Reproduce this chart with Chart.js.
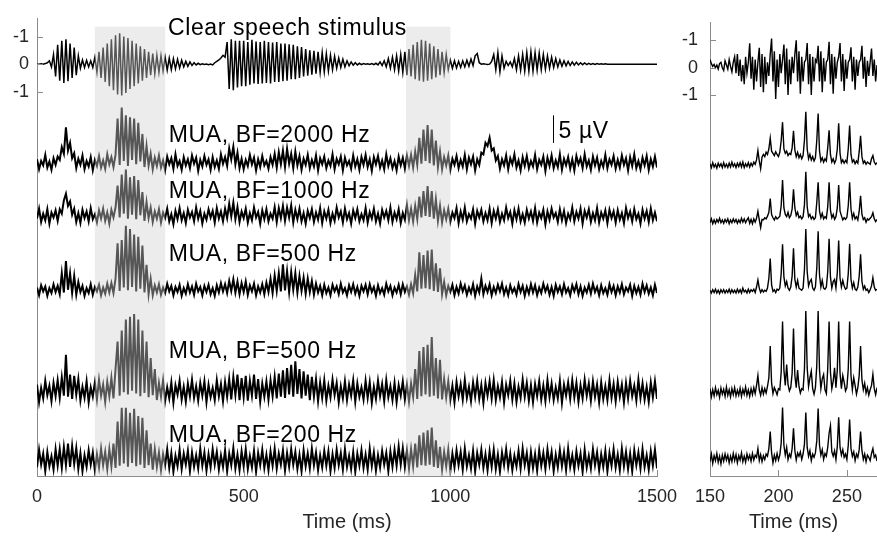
<!DOCTYPE html>
<html><head><meta charset="utf-8">
<script src="https://cdn.jsdelivr.net/npm/chart.js@4.4.0/dist/chart.umd.min.js"></script>
<style>
html,body{margin:0;padding:0;background:#fff;width:877px;height:536px;overflow:hidden}
canvas{position:absolute;top:0}
#left{left:0}
#right{left:660px}
</style></head><body>
<canvas id="left" width="700" height="536"></canvas>
<canvas id="right" width="217" height="536"></canvas>
<script>
// ---------- sample times (ms) ----------
const tLeft = []; for (let t = 0; t <= 1500; t += 5) tLeft.push(t);
const tRight = []; for (let t = 150; t <= 272; t += 1) tRight.push(t);

// ---------- tick values / labels ----------
const xTicksLeft = [0, 500, 1000, 1500];
const xTickLabelsLeft = ['0', '500', '1000', '1500'];
const xTicksRight = [150, 200, 250];
const xTickLabelsRight = ['150', '200', '250'];
const yTickVals = [-1, 0, 1];
const yTickLabels = ['-1', '0', '-1'];

// ---------- text ----------
const traceLabels = ['Clear speech stimulus', 'MUA, BF=2000 Hz', 'MUA, BF=1000 Hz', 'MUA, BF=500 Hz', 'MUA, BF=500 Hz', 'MUA, BF=200 Hz'];
const xTitle = 'Time (ms)';
const scaleBarLabel = '5 µV';

// ---------- shaded windows (ms) ----------
const shadeStart = [140, 893];
const shadeEnd = [310, 1000];

// ---------- left panel: speech stimulus (normalised amplitude), 0..1500 ms every 5 ms ----------
const stimLeft = [
 0,0,0.01,0,0.02,0.05,0.12,-0.1,0.35,-0.45,0.7,-0.6,0.85,-0.68,0.9,-0.62,0.75,-0.5,0.6,-0.4,
 0.3,-0.15,0.15,-0.12,0.14,-0.1,0.12,-0.12,0.25,-0.3,0.45,-0.5,0.6,-0.65,0.75,-0.8,0.9,-0.95,1.05,-1.1,
 1.12,-1.14,1.0,-1.05,0.95,-0.9,0.85,-0.8,0.75,-0.7,0.65,-0.6,0.55,-0.5,0.45,-0.4,0.38,-0.35,0.32,-0.3,
 0.3,-0.25,0.25,-0.22,0.22,-0.2,0.2,-0.17,0.17,-0.14,0.14,-0.1,0.1,-0.08,0.08,-0.05,0.05,-0.03,0.03,-0.02,
 0.01,-0.01,0,-0.02,0,-0.03,0.05,0.1,0.15,0.22,0.32,0.25,0.8,-0.9,0.9,-0.95,0.85,-0.85,0.85,-0.8,
 0.85,-0.8,0.8,-0.75,0.88,-0.7,0.82,-0.72,0.8,-0.7,0.85,-0.68,0.8,-0.7,0.78,-0.65,0.8,-0.65,0.75,-0.62,
 0.75,-0.6,0.72,-0.55,0.7,-0.55,0.65,-0.5,0.62,-0.45,0.55,-0.42,0.5,-0.38,0.48,-0.35,0.45,-0.3,0.42,-0.28,
 0.38,-0.25,0.32,-0.2,0.28,-0.15,0.22,-0.12,0.18,-0.1,0.12,-0.06,0.08,-0.04,0.05,-0.03,0.03,-0.02,0.02,0,
 0.01,-0.01,0.02,-0.02,0.03,-0.03,0.08,-0.05,0.12,-0.1,0.2,-0.15,0.25,-0.2,0.3,-0.25,0.35,-0.3,0.45,-0.4,
 0.55,-0.45,0.7,-0.55,0.8,-0.6,0.88,-0.64,0.85,-0.6,0.75,-0.55,0.65,-0.48,0.55,-0.4,0.45,-0.3,0.35,-0.2,
 0.15,-0.15,0.12,-0.14,0.1,-0.12,0.12,-0.1,0.14,-0.08,0.18,-0.05,0.3,0.38,0.05,0,0.01,0,-0.01,0,
 0.1,0.35,-0.2,0.42,-0.28,0.3,-0.15,0.1,-0.05,0.08,-0.1,0.2,-0.2,0.3,-0.22,0.35,-0.25,0.42,-0.25,0.45,
 -0.25,0.42,-0.22,0.4,-0.2,0.35,-0.18,0.3,-0.15,0.25,-0.12,0.2,-0.1,0.15,-0.08,0.12,-0.06,0.1,-0.05,0.08,
 -0.04,0.07,-0.03,0.05,-0.02,0.04,-0.02,0.03,-0.01,0.02,-0.01,0.02,0,0.01,0,0.01,0,0,0,0,
 0,0,0,0,0,0,0,0,0,0,0,0,0,0,0,0,0,0,0,0,
 0
];

// ---------- left panel: MUA (µV), 0..1500 ms every 5 ms ----------
const mua2000Left = [
 0.6,-1.2,0.3,-0.5,1.4,-0.9,0.2,-1.3,0.8,-0.4,1.1,0.5,2.8,1.6,6.4,2.2,3.6,0.8,1.7,-1.0,
 0.7,-0.4,1.3,-1.2,0.3,-0.7,1.0,-1.4,0.5,-0.6,1.2,-0.9,0.4,-1.1,1.5,-0.3,1.0,-0.8,1.4,8.0,
 -0.4,10,0.3,8.6,-0.6,8.2,0.5,8.0,-0.3,7.2,0.2,5.2,-0.8,3.0,-0.5,1.6,-1.2,0.9,-0.6,1.3,
 -0.9,0.4,-1.4,1.1,-0.3,0.8,-1.1,1.5,-0.6,0.3,-1.3,1.0,-0.5,0.6,-1.0,1.3,-0.2,0.9,-1.5,0.5,
 -0.7,1.2,-0.4,0.6,-1.3,1.0,-0.8,0.4,-1.1,1.5,-0.2,1.0,-0.6,2.6,0.6,2.9,-0.3,1.8,-1.0,0.7,
 -1.2,0.5,-0.6,1.4,-0.3,0.9,-1.4,0.6,-0.8,1.2,-0.5,0.3,-1.1,1.0,-0.4,1.6,-0.9,1.9,-0.3,2.2,
 -0.8,2.5,-0.2,1.6,-1.0,2.0,-0.5,1.2,-1.3,0.7,-0.4,1.4,-1.0,0.5,-0.7,1.3,-1.4,0.8,-0.3,1.1,
 -1.0,0.4,-0.6,1.5,-1.2,0.7,-0.3,1.1,-1.4,0.9,-0.5,0.3,-1.1,1.3,-0.7,0.6,-1.3,1.0,-0.4,1.4,
 -0.8,0.6,-1.5,1.0,-0.3,1.2,-0.9,0.4,-1.2,1.5,-0.6,0.8,-1.0,0.3,-1.4,1.1,-0.5,0.9,-1.1,1.3,
 -0.6,1.4,-0.9,2.0,-0.4,4.5,-0.2,6.0,0.3,6.8,-0.1,6.0,-0.5,4.0,-0.8,2.0,-1.2,1.0,-0.5,1.3,
 -1.3,0.7,-0.4,1.2,-1.0,0.5,-0.7,1.4,-1.2,0.9,-0.3,1.1,-1.4,0.6,-0.4,1.8,1.5,3.6,3.0,4.5,
 2.2,2.6,0.4,1.2,-1.1,0.6,-0.5,1.3,-1.2,0.8,-0.3,1.5,-0.9,0.4,-1.4,1.0,-0.6,1.2,-1.0,0.3,
 -0.7,1.4,-1.2,0.5,-0.4,1.1,-1.5,0.9,-0.6,1.3,-1.0,0.4,-0.8,1.5,-1.3,0.7,-0.5,1.0,-1.1,0.6,
 -1.4,1.2,-0.3,0.8,-1.0,1.5,-0.7,0.4,-1.3,1.1,-0.5,0.9,-1.2,0.3,-0.8,1.4,-1.0,0.6,-0.4,1.2,
 -1.1,0.5,-0.9,1.3,-0.4,0.8,-1.4,1.0,-0.6,1.5,-1.0,0.3,-1.2,0.9,-0.5,1.2,-1.3,0.6,-0.7,1.1,
 -0.9
];
const mua1000Left = [
 -0.5,1.3,-1.1,0.4,-0.8,1.2,-1.4,0.6,-0.3,1.0,-0.9,1.2,0.4,2.8,4.0,1.8,2.6,0.2,1.3,-1.1,
 0.5,-1.3,1.1,-0.4,0.8,-1.0,1.4,-0.6,0.3,-1.2,1.0,-0.5,1.3,-0.9,0.6,-1.4,1.1,-0.3,1.5,5.5,
 -0.3,7.5,0.4,8.4,-0.5,7.0,0.2,7.2,-0.6,6.5,0.1,4.3,-0.9,2.5,-0.4,1.5,-1.1,0.8,-0.5,1.2,
 -1.2,0.6,-0.4,1.3,-1.0,0.3,-1.5,0.9,-0.6,1.4,-0.8,0.5,-1.3,1.1,-0.3,0.7,-1.0,1.5,-0.5,0.9,
 -1.4,0.4,-0.7,1.2,-0.3,0.9,-1.2,1.4,-0.5,0.8,-1.0,1.3,-0.4,2.2,-0.1,2.4,-0.6,1.6,-1.1,0.8,
 -0.4,1.3,-1.2,0.5,-0.8,1.5,-0.3,0.7,-1.4,1.0,-0.6,1.2,-1.0,0.4,-0.5,1.6,-1.1,1.4,-0.4,1.8,
 -0.9,1.5,-0.3,1.9,-1.2,1.1,-0.6,1.3,-1.0,0.5,-1.4,0.9,-0.4,1.2,-1.1,0.6,-0.7,1.4,-1.3,0.8,
 -0.5,1.1,-1.3,0.4,-0.9,1.5,-0.3,0.8,-1.2,1.3,-0.6,0.5,-1.4,1.0,-0.4,1.2,-1.0,0.3,-0.8,1.4,
 -1.2,0.7,-0.5,1.3,-1.0,0.4,-1.4,1.1,-0.3,0.9,-0.8,1.5,-1.1,0.6,-0.6,1.2,-1.3,0.5,-0.7,2.0,
 -0.8,1.3,-1.0,1.8,-0.6,3.5,-0.3,4.5,0,5.4,-0.2,4.5,-0.5,3.0,-0.9,1.8,-1.2,1.0,-0.6,1.3,
 -1.1,0.6,-0.4,1.4,-1.3,0.8,-0.7,1.5,-1.0,0.3,-0.5,1.2,-1.4,0.9,-0.3,1.1,-1.0,0.5,-0.8,1.3,
 -1.3,0.9,-0.5,1.2,-1.1,0.4,-0.8,1.5,-0.4,0.7,-1.4,1.0,-0.6,1.3,-1.0,0.3,-1.2,1.1,-0.5,0.8,
 -0.9,1.4,-1.2,0.6,-0.4,1.1,-1.5,0.8,-0.7,1.3,-0.3,0.5,-1.1,1.2,-0.8,0.9,-1.3,0.4,-0.6,1.5,
 -1.0,0.7,-0.5,1.3,-1.4,0.9,-0.3,1.2,-1.1,0.5,-0.8,1.4,-1.2,0.6,-0.5,1.0,-1.3,1.1,-0.4,0.8,
 -1.2,1.0,-0.7,0.5,-1.3,1.4,-0.4,0.8,-1.0,1.2,-0.6,0.4,-1.4,1.1,-0.5,0.9,-1.1,1.3,-0.8,0.6,
 -1.0
];
const mua500aLeft = [
 0.4,-1.0,0.8,-0.3,0.6,-1.1,0.3,-0.6,1.0,-0.4,0.7,-0.8,3.0,-0.5,5.2,0.0,3.0,-0.6,2.5,-0.9,
 1.4,-0.4,0.7,-1.1,0.3,-0.6,1.0,-0.9,0.5,-0.3,0.9,-1.0,0.4,-0.7,1.1,-0.5,1.2,-0.6,2.0,8.4,
 -0.2,9.0,0.4,11.6,-0.1,11.0,0.5,10.0,-0.3,9.6,0.2,8.0,-0.5,4.5,-0.8,2.0,-1.0,0.8,-0.5,1.0,
 -0.9,0.4,-0.6,1.1,-0.3,0.7,-1.0,0.5,-0.4,0.9,-1.1,0.3,-0.7,1.0,-0.5,0.6,-0.9,1.1,-0.3,0.5,
 -1.0,0.7,-0.4,0.9,-0.8,0.3,-1.1,0.8,-0.5,1.2,-0.3,1.0,-0.6,1.6,-0.2,1.9,-0.5,1.5,-0.8,1.2,
 -0.4,1.5,-0.9,0.8,-0.3,1.1,-1.0,0.6,-0.5,1.0,-0.8,1.3,-0.4,2.0,-0.6,2.6,-0.2,3.0,-0.3,4.6,
 -0.1,3.4,-0.4,3.2,0.0,3.0,-0.5,2.5,-0.2,2.2,-0.7,2.0,-0.4,1.6,-0.9,1.1,-0.5,0.7,-1.0,0.9,
 -0.6,0.4,-1.0,0.9,-0.3,0.6,-0.8,1.1,-0.5,0.3,-1.0,0.8,-0.4,1.0,-0.7,0.5,-1.1,0.7,-0.3,0.9,
 -0.8,1.0,-0.4,0.5,-1.1,0.8,-0.6,0.3,-0.9,1.1,-0.3,0.7,-1.0,0.4,-0.5,0.9,-0.8,1.0,-0.4,0.6,
 -0.9,1.0,-0.6,2.7,-0.3,6.8,0.2,6.3,0.3,7.1,0.1,7.3,-0.2,4.8,-0.4,3.9,-0.8,1.4,-1.0,0.7,
 -0.4,0.9,-1.0,0.5,-0.7,1.1,-0.3,0.8,-0.9,0.4,-0.6,1.0,-1.1,0.6,-0.5,2.0,-0.8,0.7,-0.4,1.0,
 -1.0,0.5,-0.6,0.9,-0.3,1.1,-0.8,0.4,-1.0,0.8,-0.5,0.3,-0.9,1.0,-0.4,0.7,-1.1,0.5,-0.7,1.0,
 -0.5,0.8,-1.0,0.4,-0.6,1.1,-0.3,0.7,-0.9,0.5,-1.1,0.9,-0.4,0.6,-0.8,1.0,-0.5,0.3,-1.0,0.8,
 -0.3,1.0,-0.8,0.6,-1.1,0.4,-0.5,0.9,-0.7,1.1,-0.4,0.5,-1.0,0.8,-0.6,0.3,-0.9,1.0,-0.4,0.7,
 -1.0,0.6,-0.5,1.0,-0.8,0.4,-0.3,0.9,-1.1,0.7,-0.6,0.5,-0.9,1.1,-0.4,0.8,-0.7,0.4,-1.0,0.9,
 -0.6
];
const mua500bLeft = [
 1.2,-2.0,0.6,-1.3,1.9,-0.7,1.0,-1.8,1.5,-0.9,2.0,-1.2,2.5,-0.8,6.6,-1.0,3.0,-1.4,2.8,-0.6,
 2.2,-1.7,0.8,-1.2,1.8,-2.0,0.7,-1.0,1.6,-1.5,2.1,-0.8,1.2,-1.9,1.7,-0.9,2.4,-1.3,4.0,9.0,
 -0.8,11.0,-0.2,13.0,-0.6,13.5,0.1,14.0,-0.4,13.0,-0.9,11.0,-0.3,9.0,-1.1,6.0,-0.7,4.0,-1.6,1.5,
 -1.0,2.0,-1.8,0.7,-1.3,1.6,-2.1,1.1,-0.6,1.9,-1.5,0.8,-1.9,1.4,-0.9,2.1,-1.2,0.9,-1.7,1.5,
 -0.8,1.8,-2.0,1.2,-1.1,0.6,-1.6,2.0,-0.9,1.3,-1.8,1.7,-1.0,2.2,-1.5,2.6,-0.7,3.0,-1.6,2.4,
 -1.1,2.8,-1.7,1.9,-0.8,3.0,-1.4,2.2,-1.9,1.4,-1.0,1.8,-1.5,2.0,-0.9,2.6,-1.3,3.2,-1.0,3.8,
 -1.2,4.2,-0.6,4.8,-1.0,5.4,-0.5,4.0,-1.3,3.6,-0.8,3.0,-1.6,2.6,-1.0,2.2,-1.8,1.6,-1.2,2.0,
 -1.7,1.0,-1.1,2.1,-0.7,1.5,-2.0,0.9,-1.3,1.8,-1.6,1.2,-0.8,2.0,-1.9,1.4,-1.0,0.7,-1.5,1.9,
 -1.2,1.6,-2.1,0.8,-1.4,1.9,-0.9,1.3,-1.8,2.0,-1.1,0.9,-1.6,1.5,-2.0,1.1,-0.8,1.8,-1.5,1.2,
 -1.9,1.4,-1.0,4.0,-1.4,7.3,-0.9,8.0,-0.6,8.4,-1.0,9.8,-0.8,6.0,-1.3,5.7,-1.5,2.2,-1.1,1.8,
 -1.6,1.0,-2.0,1.7,-0.9,1.3,-1.5,2.1,-1.2,0.8,-1.8,1.6,-1.0,1.9,-1.4,1.1,-2.1,1.5,-0.8,1.8,
 -1.3,2.0,-1.6,0.9,-1.1,1.7,-2.0,1.2,-0.7,1.9,-1.5,1.4,-1.9,0.8,-1.2,2.1,-1.0,1.5,-1.7,1.1,
 -2.0,1.3,-0.9,1.8,-1.5,1.0,-1.8,2.0,-1.1,1.4,-1.6,0.7,-1.3,1.9,-2.1,1.2,-0.8,1.6,-1.4,2.0,
 -1.1,1.5,-1.9,1.1,-1.3,2.1,-0.8,1.4,-1.7,1.8,-1.0,1.2,-2.0,1.6,-1.4,0.9,-1.6,2.0,-1.2,1.3,
 -1.8,1.7,-1.0,1.2,-2.0,1.5,-1.3,1.9,-0.9,1.0,-1.7,2.1,-1.2,1.4,-1.5,0.8,-1.9,1.6,-1.1,1.8,
 -1.4
];
const mua200Left = [
 -1.3,1.9,-0.8,1.2,-2.0,1.5,-1.1,0.7,-1.7,2.0,-1.0,2.0,-1.4,2.4,-0.9,3.0,-1.2,2.6,-0.7,2.2,
 -1.6,1.3,-2.0,0.9,-1.2,1.8,-0.8,1.4,-1.9,1.1,-1.3,2.1,-0.9,1.5,-1.6,2.0,-1.1,3.0,-1.4,7.0,
 -1.0,9.5,-0.6,9.5,-1.2,8.6,-0.5,9.3,-1.1,8.0,-0.8,7.7,-1.4,5.4,-0.9,3.0,-1.7,2.0,-1.2,1.4,
 -1.8,1.1,-0.9,2.0,-1.4,1.3,-2.1,0.8,-1.1,1.9,-1.6,1.2,-0.8,1.7,-2.0,1.4,-1.2,0.9,-1.5,2.1,
 -1.0,1.4,-1.9,1.1,-1.3,2.0,-0.8,1.5,-1.7,0.9,-1.2,1.8,-2.0,1.2,-0.9,2.2,-1.5,1.0,-1.8,1.6,
 -1.1,2.0,-1.6,0.8,-1.3,1.7,-2.1,1.3,-0.9,1.9,-1.4,1.0,-1.8,1.6,-1.0,2.1,-1.5,1.2,-0.8,1.8,
 -1.9,1.3,-1.2,2.0,-0.8,1.5,-1.6,1.0,-2.0,1.8,-1.1,1.2,-1.5,2.1,-0.9,1.4,-1.8,0.9,-1.3,1.7,
 -1.0,1.6,-2.0,1.1,-1.4,1.9,-0.9,1.3,-1.7,2.0,-1.2,0.8,-1.6,1.5,-2.1,1.2,-1.0,1.8,-1.4,1.0,
 -1.7,2.1,-1.1,1.4,-1.9,0.9,-1.3,1.7,-0.8,1.3,-2.0,1.6,-1.2,1.9,-1.0,2.5,-0.8,2.2,-1.2,1.8,
 -1.5,2.0,-1.1,3.0,-1.3,4.5,-0.9,5.0,-1.0,5.4,-0.8,5.9,-1.2,3.6,-1.4,2.4,-1.7,1.5,-1.1,1.9,
 -2.0,1.2,-1.3,1.8,-0.9,1.5,-1.7,2.1,-1.1,0.9,-1.5,1.7,-2.0,1.3,-0.8,1.9,-1.4,1.1,-1.8,1.6,
 -1.2,1.9,-1.6,1.0,-2.1,1.4,-0.9,2.0,-1.3,1.2,-1.8,0.8,-1.1,1.7,-1.5,2.1,-0.9,1.3,-2.0,1.5,
 -1.4,1.1,-1.9,1.8,-1.0,1.3,-1.6,2.0,-0.8,1.5,-2.0,1.0,-1.3,1.9,-1.1,1.4,-1.8,2.1,-1.2,0.9,
 -1.7,1.6,-1.0,1.2,-2.1,1.9,-1.3,0.8,-1.5,2.0,-0.9,1.4,-1.8,1.1,-1.2,1.7,-2.0,1.3,-1.0,2.0,
 -1.3,1.0,-1.8,2.1,-1.1,1.5,-1.6,1.2,-2.0,1.8,-0.9,1.4,-1.5,2.0,-1.2,0.9,-1.7,1.6,-1.0,1.9,
 -1.5
];

// ---------- right panel (150..272 ms every 1 ms) ----------
const stimRight = [
 0.3,0.15,0.05,0.12,0,0.1,-0.05,0.15,0.2,0,
 -0.1,0.25,0.1,-0.05,0.3,0.05,-0.15,0.2,0.4,-0.2,
 0.5,-0.3,0.3,-0.5,0.1,-0.6,0.4,-0.2,0.2,0.89,
 -0.4,0.4,-0.8,0.3,-0.5,0.2,0.73,-0.7,0.5,-0.9,
 0.4,-0.6,0.2,-0.3,0.5,1.07,-0.5,0.6,-1.14,0.3,
 -0.7,0.5,-0.2,0.3,0.85,-0.6,0.7,-1.0,0.3,-0.6,
 0.4,-0.2,0.5,1.0,-0.5,0.6,-0.95,0.4,-0.5,0.2,
 0.3,0.9,-0.6,0.5,-1.0,0.4,-0.5,0.3,0.2,0.8,
 -0.5,0.6,-0.9,0.35,-0.5,0.2,0.3,0.95,-0.6,0.5,
 -0.95,0.4,-0.4,0.2,0.4,0.9,-0.5,0.5,-0.85,0.3,
 -0.4,0.2,0.3,0.75,-0.5,0.4,-0.8,0.3,-0.3,0.2,
 0.3,0.8,-0.4,0.4,-0.7,0.25,-0.3,0.2,0.7,-0.3,
 0.3,-0.5,0.1
];
const mua2000Right = [
 0.3,-0.4,0.5,-0.3,0.2,-0.5,0.4,-0.2,0.3,-0.4,
 0.5,-0.3,0.2,-0.4,0.4,-0.3,0.6,-0.2,0.3,-0.4,
 0.4,-0.2,0.5,-0.3,0.6,-0.4,0.3,-0.2,0.5,-0.3,
 0.4,-0.1,0.6,0.2,1.0,2.7,0.8,-0.6,1.5,2.0,
 1.6,2.4,2.0,3.0,5.0,2.6,2.2,1.8,2.5,2.0,
 1.6,2.4,4.5,7.9,3.0,2.2,2.6,1.8,2.2,2.0,
 3.2,6.3,2.8,1.6,2.4,1.4,2.0,1.2,1.8,4.6,
 9.8,3.0,1.2,2.0,1.0,1.6,0.8,1.4,4.5,9.5,
 2.6,0.8,1.4,0.6,1.2,0.8,3.2,6.4,2.0,0.6,
 1.2,0.4,1.0,3.0,7.7,2.2,0.5,1.0,0.4,0.9,
 0.5,3.0,7.3,2.0,0.6,1.0,0.3,0.8,0.4,2.5,
 5.4,1.6,0.4,0.8,0.2,0.6,0.4,0.2,1.2,1.8,
 0.6,0.2,0.5
];
const mua1000Right = [
 -0.3,0.4,-0.5,0.2,-0.4,0.3,-0.2,0.5,-0.3,0.2,
 -0.4,0.3,-0.2,0.4,-0.5,0.2,-0.3,0.4,-0.2,0.3,
 -0.4,0.2,-0.3,0.5,-0.2,0.4,-0.3,0.2,0.6,-0.4,
 0.3,-0.5,0.4,-0.2,0.5,1.8,0.2,-1.2,0.3,0.2,
 0.6,0.4,0.9,1.6,4.1,1.2,0.6,0.2,0.8,0.4,
 0.6,0.9,2.8,7.5,2.4,1.2,0.8,1.6,0.6,1.0,
 2.2,5.8,2.4,1.0,1.6,0.6,0.9,0.4,0.8,3.0,
 9.0,2.6,0.8,1.2,0.4,0.8,0.3,0.6,3.4,7.1,
 1.8,0.6,1.4,0.4,0.8,0.5,2.6,7.1,2.0,0.6,
 1.2,0.3,0.8,2.4,6.6,1.8,1.0,0.2,0.6,0.3,
 0.7,2.8,7.1,2.2,0.5,1.4,0.4,0.8,0.2,1.8,
 4.6,1.2,0.3,0.6,-0.2,0.4,0.2,0.5,0.8,1.5,
 0.4,-0.1,0.3
];
const mua500aRight = [
 0.2,-0.3,0.3,-0.2,0.4,-0.3,0.2,-0.4,0.3,-0.2,
 0.3,-0.3,0.2,-0.2,0.4,-0.3,0.3,-0.2,0.2,-0.3,
 0.4,-0.2,0.3,-0.3,0.6,-0.1,0.2,-0.3,0.4,-0.2,
 0.3,0,0.4,-0.2,0.8,2.1,0.6,-0.2,0.3,-0.1,
 0.2,0,0.6,2.4,6.0,1.2,0,0.3,-0.2,0.4,
 0.2,0.6,3.2,8.6,2.6,1.0,1.8,0.6,0.2,0.8,
 2.8,7.9,2.2,0.8,2.0,0.6,0.4,0.2,0.6,4.0,
 11.4,3.6,1.0,1.8,2.2,0.6,0.2,0.8,4.2,11.0,
 3.0,0.8,2.0,0.6,0.4,0.8,3.6,9.6,2.6,0.6,
 1.8,2.2,0.6,3.4,9.3,2.4,0.8,2.0,1.0,0.4,
 0.6,3.2,8.7,2.2,0.6,1.6,0.4,0.2,0.8,2.8,
 6.8,1.8,0.4,1.0,0.2,0.4,-0.2,0.3,1.0,2.5,
 0.8,0.2,0.4
];
const mua500bRight = [
 0.6,-0.9,0.4,-0.7,0.8,-0.5,0.3,-1.0,0.7,-0.4,
 0.5,-0.8,0.9,-0.6,0.4,-0.9,0.6,-0.5,0.8,-0.7,
 0.3,-0.6,0.7,-0.8,0.5,-0.4,0.9,-0.6,0.4,-0.8,
 0.6,-0.5,0.8,-0.3,1.2,3.0,0.4,-0.6,0.8,-0.4,
 0.6,-0.2,1.0,2.6,8.4,1.6,-0.3,0.8,0.2,-0.5,
 0.6,0.4,3.6,12.9,4.0,1.2,5.0,1.4,0.2,0.8,
 3.4,11.6,3.0,0.8,4.0,1.0,-0.2,0.6,0.4,4.2,
 14.8,4.4,1.0,2.6,3.8,0.6,-0.4,0.8,4.8,14.8,
 4.0,0.6,2.4,3.2,0.4,-0.3,4.2,12.9,3.6,0.6,
 2.0,4.4,0.8,4.0,12.9,3.4,0.6,3.0,1.8,0.2,
 0.8,4.2,12.9,3.0,0.4,2.6,1.2,-0.4,0.8,3.0,
 8.4,2.2,0.4,1.6,-0.2,0.8,-0.6,0.4,1.2,3.2,
 0.6,-0.5,0.8
];
const mua200Right = [
 -0.6,0.8,-0.9,0.5,-0.4,0.9,-0.7,0.4,-1.0,0.6,
 -0.5,0.8,-0.3,0.6,-0.8,0.4,-0.6,0.9,-0.4,0.7,
 -0.8,0.5,-0.3,1.0,-0.6,0.4,-0.7,0.8,-0.2,0.6,
 -0.5,0.9,-0.3,0.6,0.2,1.8,-0.4,0.7,-0.6,0.5,
 -0.2,0.8,0.4,1.8,4.9,1.0,-0.8,0.6,-0.4,0.9,
 -0.3,0.6,2.8,9.3,2.4,0.6,2.0,-0.2,0.8,0.2,
 1.8,5.5,1.4,-0.3,1.0,0.4,1.2,-0.2,0.8,2.6,
 8.4,2.0,0.4,1.4,-0.4,0.8,0.2,1.0,3.2,9.1,
 2.4,0.6,1.6,-0.2,0.9,0.4,2.0,4.6,6.0,1.2,
 0.4,1.4,-0.2,2.2,7.5,2.0,0.6,1.6,0.2,0.8,
 -0.2,2.4,7.1,1.8,0.4,1.2,-0.4,0.8,0.2,1.6,
 4.9,1.4,-0.2,0.8,-0.6,0.6,0.2,-0.4,0.9,1.8,
 0.2,0.6,-0.5
];

// ---------- layout / style (not data) ----------
const FONT = '"Liberation Sans", Arial, Helvetica, sans-serif';
const TEXT = '#262626';
const AXIS = '#8c8c8c';
const UV_PER_UNIT = 5;            // 5 µV spans one stimulus unit vertically
const Y_MIN = -14.93, Y_MAX = 1.643;
const SHADE_TOP = 1.357;
const leftOffsets = [0, -3.571, -5.5, -8.179, -11.857, -14.357];
const rightOffsets = [0, -3.571, -5.607, -8.179, -11.857, -14.286];
const leftWidths = [1.5, 2, 2, 2, 2, 2];
const rightWidths = [1.4, 1.4, 1.4, 1.4, 1.4, 1.4];
const labelT = [317, 319, 319, 319, 319, 319];
const labelY = [1.071, -2.821, -4.857, -7.143, -10.643, -13.714];
const scaleBarT = 1248, scaleBarTop = -1.857, scaleBarUV = 5;

function buildSets(times, seriesList, offsets, widths) {
  return seriesList.map((vals, k) => ({
    data: vals.map((v, i) => ({x: times[i], y: offsets[k] + (k === 0 ? v : v / UV_PER_UNIT)})),
    borderColor: '#000', borderWidth: widths[k], pointRadius: 0, tension: 0, parsing: false, fill: false,
    borderJoinStyle: 'miter'
  }));
}

function inwardTicks(chart) {
  const {ctx, scales: {x, y}} = chart;
  ctx.save();
  ctx.strokeStyle = AXIS; ctx.lineWidth = 1;
  ctx.beginPath();
  x.ticks.forEach(t => { const px = Math.round(x.getPixelForValue(t.value)) + 0.5; ctx.moveTo(px, y.bottom); ctx.lineTo(px, y.bottom - 6); });
  y.ticks.forEach(t => { const py = Math.round(y.getPixelForValue(t.value)) + 0.5; ctx.moveTo(x.left, py); ctx.lineTo(x.left + 6, py); });
  ctx.stroke();
  ctx.restore();
}

const leftDecor = {
  id: 'leftDecor',
  afterDatasetsDraw(chart) {
    const {ctx, scales: {x, y}} = chart;
    ctx.save();
    ctx.fillStyle = 'rgba(208,208,208,0.41)';
    for (let i = 0; i < shadeStart.length; i++) {
      const x0 = x.getPixelForValue(shadeStart[i]), x1 = x.getPixelForValue(shadeEnd[i]);
      const y0 = y.getPixelForValue(SHADE_TOP);
      ctx.fillRect(x0, y0, x1 - x0, y.bottom - y0);
    }
    ctx.restore();
  },
  afterDraw(chart) {
    const {ctx, scales: {x, y}} = chart;
    inwardTicks(chart);
    ctx.save();
    ctx.letterSpacing = '0.6px';
    ctx.fillStyle = '#000';
    ctx.font = '23px ' + FONT;
    ctx.textBaseline = 'alphabetic';
    ctx.textAlign = 'left';
    traceLabels.forEach((s, i) => ctx.fillText(s, x.getPixelForValue(labelT[i]), y.getPixelForValue(labelY[i])));
    const bx = Math.round(x.getPixelForValue(scaleBarT)) + 0.5;
    const by0 = y.getPixelForValue(scaleBarTop), by1 = y.getPixelForValue(scaleBarTop - scaleBarUV / UV_PER_UNIT);
    ctx.strokeStyle = '#000'; ctx.lineWidth = 1;
    ctx.beginPath(); ctx.moveTo(bx, by0); ctx.lineTo(bx, by1); ctx.stroke();
    ctx.fillText(scaleBarLabel, bx + 5, (by0 + by1) / 2 + 9);
    ctx.restore();
  }
};

const rightDecor = { id: 'rightDecor', afterDraw(chart) { inwardTicks(chart); } };

function xOpts(min, max, ticks, labels) {
  return {
    type: 'linear', min, max,
    afterBuildTicks: s => { s.ticks = ticks.map(v => ({value: v})); },
    ticks: {color: TEXT, font: {family: FONT, size: 18}, padding: 10, maxRotation: 0, autoSkip: false,
            callback: (v, i) => labels[i]},
    grid: {display: false, drawTicks: false},
    border: {display: true, color: AXIS, width: 1},
    title: {display: true, text: xTitle, color: TEXT, font: {family: FONT, size: 20}, padding: {top: 0, bottom: 2}},
    afterFit: s => { s.height = 60; }
  };
}
function yOpts(width, pad) {
  return {
    type: 'linear', min: Y_MIN, max: Y_MAX,
    afterBuildTicks: s => { s.ticks = yTickVals.map(v => ({value: v})); },
    ticks: {color: TEXT, font: {family: FONT, size: 18}, padding: pad, callback: (v, i) => yTickLabels[i]},
    grid: {display: false, drawTicks: false},
    border: {display: true, color: AXIS, width: 1},
    afterFit: s => { s.width = width; }
  };
}
const common = {
  responsive: false, animation: false, devicePixelRatio: 1, events: [],
  plugins: {legend: {display: false}, tooltip: {enabled: false}},
  elements: {point: {radius: 0}, line: {tension: 0}}
};

new Chart(document.getElementById('left'), {
  type: 'line',
  data: {datasets: buildSets(tLeft, [stimLeft, mua2000Left, mua1000Left, mua500aLeft, mua500bLeft, mua200Left], leftOffsets, leftWidths)},
  options: Object.assign({}, common, {
    layout: {padding: {top: 12, right: 43, left: 0, bottom: 0}},
    scales: {x: xOpts(0, 1500, xTicksLeft, xTickLabelsLeft), y: yOpts(37, 8)}
  }),
  plugins: [leftDecor]
});

new Chart(document.getElementById('right'), {
  type: 'line',
  data: {datasets: buildSets(tRight, [stimRight, mua2000Right, mua1000Right, mua500aRight, mua500bRight, mua200Right], rightOffsets, rightWidths)},
  options: Object.assign({}, common, {
    layout: {padding: {top: 12, right: 0, left: 0, bottom: 0}},
    scales: {x: xOpts(150, 272, xTicksRight, xTickLabelsRight), y: yOpts(50, 12)}
  }),
  plugins: [rightDecor]
});
</script>
</body></html>
